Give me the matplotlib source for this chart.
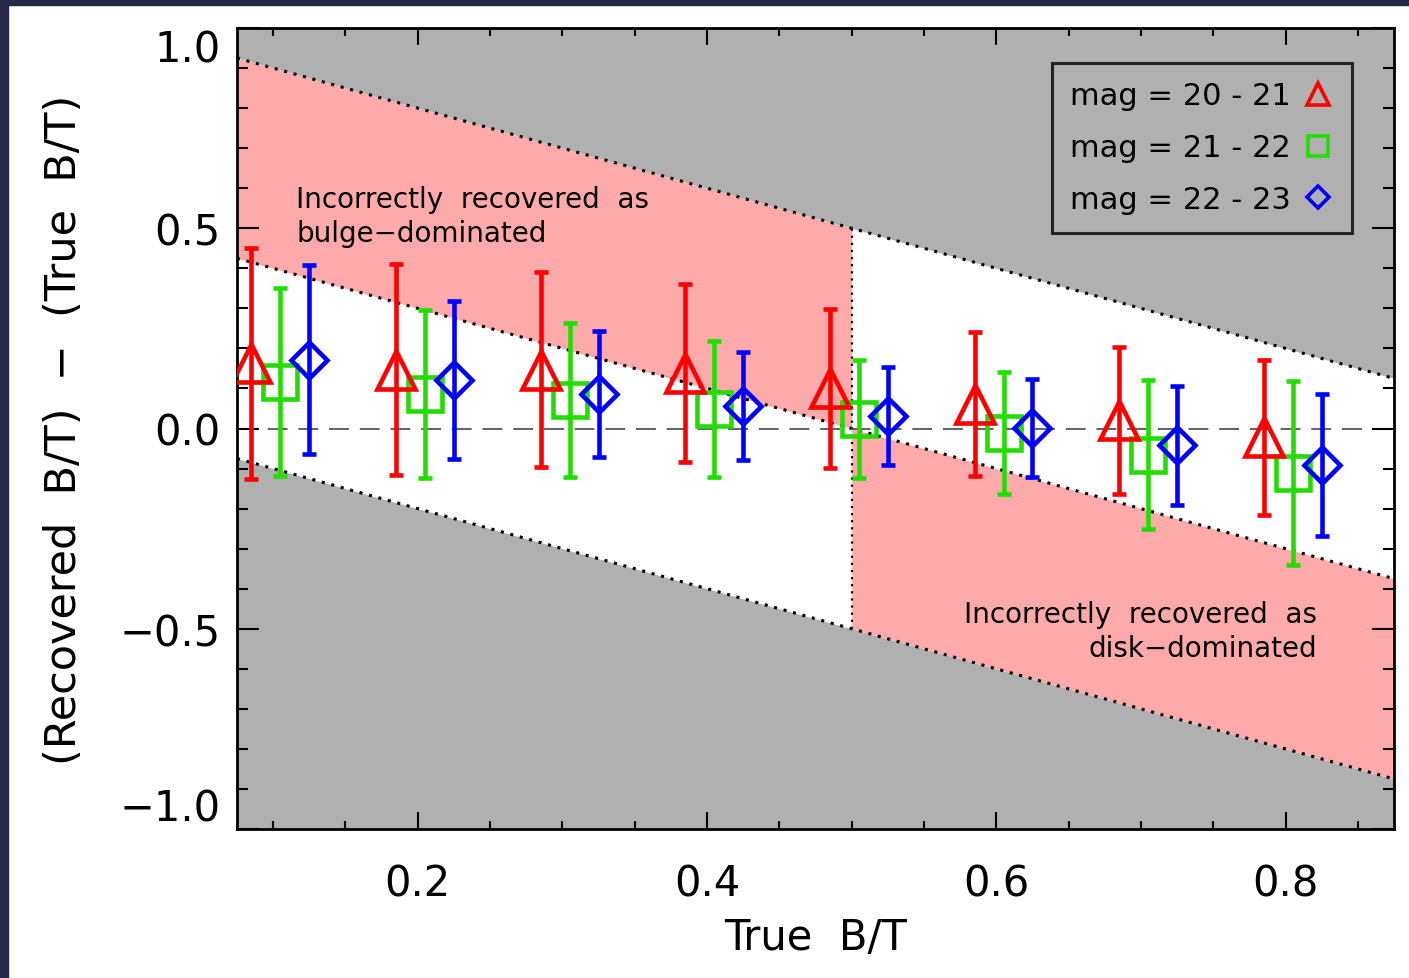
import matplotlib
matplotlib.use('Agg')
import matplotlib.pyplot as plt
from matplotlib.lines import Line2D
from matplotlib.patches import Rectangle
import numpy as np

plt.rcParams['font.family'] = ['DejaVu Sans']

# ---------------------------------------------------------------------------
# data
# ---------------------------------------------------------------------------
x_red = [0.085, 0.185, 0.285, 0.385, 0.485, 0.585, 0.685, 0.785]
y_red = [0.163, 0.147, 0.147, 0.138, 0.100, 0.061, 0.020, -0.022]
err_red = [0.288, 0.263, 0.244, 0.222, 0.199, 0.180, 0.184, 0.194]

x_green = [0.105, 0.205, 0.305, 0.405, 0.505, 0.605, 0.705, 0.805]
y_green = [0.117, 0.087, 0.071, 0.049, 0.024, -0.012, -0.065, -0.111]
err_green = [0.235, 0.210, 0.192, 0.170, 0.147, 0.152, 0.186, 0.229]

x_blue = [0.125, 0.225, 0.325, 0.425, 0.525, 0.625, 0.725, 0.825]
y_blue = [0.172, 0.122, 0.086, 0.056, 0.031, 0.001, -0.042, -0.091]
err_blue = [0.235, 0.197, 0.158, 0.134, 0.122, 0.122, 0.148, 0.177]

labels = ['mag = 20 - 21', 'mag = 21 - 22', 'mag = 22 - 23']

# region boundaries: y = c - x
split_bt = 0.5
offsets = [1.0, 0.5, 0.0]

xlim = (0.075, 0.875)
ylim = (-1.0, 1.0)

RED, GREEN, BLUE = '#ff0000', '#22dd00', '#0000ff'
PINK, GRAY = '#ffaaaa', '#b0b0b0'

fig = plt.figure(figsize=(14.09, 9.79), dpi=100)
fig.patch.set_facecolor('white')
# dark frame strips (top / left)
fig.patches.append(Rectangle((0, 1 - 6 / 979), 1, 6 / 979, transform=fig.transFigure,
                             color='#262a48', zorder=0))
fig.patches.append(Rectangle((0, 0), 8 / 1409, 1, transform=fig.transFigure,
                             color='#262a48', zorder=0))

ax = fig.add_axes([237 / 1409, 1 - 830 / 979, (1394 - 237) / 1409, (830 - 29) / 979])
ax.set_xlim(*xlim)
ax.set_ylim(*ylim)

# shaded regions
xx = np.linspace(xlim[0], xlim[1], 200)
ax.fill_between(xx, offsets[0] - xx, ylim[1], color=GRAY, lw=0, zorder=0)
ax.fill_between(xx, ylim[0], offsets[2] - xx, color=GRAY, lw=0, zorder=0)
xl = xx[xx <= split_bt]
xl = np.append(xl, split_bt)
ax.fill_between(xl, offsets[1] - xl, offsets[0] - xl, color=PINK, lw=0, zorder=0)
xr = xx[xx >= split_bt]
xr = np.insert(xr, 0, split_bt)
ax.fill_between(xr, offsets[2] - xr, offsets[1] - xr, color=PINK, lw=0, zorder=0)

dot = (0, (1, 2.2))
for c in offsets:
    ax.plot(xx, c - xx, color='black', lw=2.2, linestyle=dot, zorder=1)
ax.plot([split_bt, split_bt], [offsets[2] - split_bt, offsets[0] - split_bt],
        color='black', lw=1.6, linestyle=dot, zorder=1)

ax.axhline(0, color='#555555', lw=1.3, linestyle=(0, (11, 6)), zorder=1)

# data
ekw = dict(elinewidth=3.3, capsize=5, capthick=3.3, markeredgewidth=3.3,
           markerfacecolor='none', linestyle='none', zorder=3)
ax.errorbar(x_green, y_green, yerr=err_green, marker='s', ms=25, color=GREEN,
            markeredgecolor=GREEN, **ekw)
ax.errorbar(x_blue, y_blue, yerr=err_blue, marker='D', ms=18, color=BLUE,
            markeredgecolor=BLUE, **ekw)
ax.errorbar(x_red, y_red, yerr=err_red, marker='^', ms=28, color=RED,
            markeredgecolor=RED, **ekw)

# annotations (anchor = baseline of the last line)
ax.text(0.116, 0.467, 'Incorrectly  recovered  as\nbulge\u2212dominated', fontsize=20,
        ha='left', va='baseline', linespacing=1.3, zorder=4)
ax.text(0.822, -0.569, 'Incorrectly  recovered  as\ndisk\u2212dominated', fontsize=20,
        ha='right', va='baseline', linespacing=1.3, multialignment='right', zorder=4)

# legend
handles = [
    Line2D([], [], marker='^', ms=16, mew=2.6, mfc='none', mec=RED, ls='none'),
    Line2D([], [], marker='s', ms=15, mew=2.6, mfc='none', mec=GREEN, ls='none'),
    Line2D([], [], marker='D', ms=11, mew=2.6, mfc='none', mec=BLUE, ls='none'),
]
leg = ax.legend(handles, labels, loc='upper right',
                bbox_to_anchor=((1352 - 237) / 1157, (830 - 64) / 801),
                borderaxespad=0, markerfirst=False, fontsize=22, frameon=True,
                fancybox=False, handlelength=1.0, handletextpad=0.4,
                labelspacing=0.75, borderpad=0.6)
leg.get_frame().set_facecolor('none')
leg.get_frame().set_edgecolor('black')
leg.get_frame().set_linewidth(2.2)
leg.set_zorder(5)

# axes styling
ax.set_xticks([0.2, 0.4, 0.6, 0.8])
ax.set_xticklabels(['0.2', '0.4', '0.6', '0.8'])
ax.set_xticks(np.arange(0.1, 0.876, 0.05), minor=True)
ax.set_yticks([-1.0, -0.5, 0.0, 0.5, 1.0])
ax.set_yticklabels(['\u22121.0', '\u22120.5', '0.0', '0.5', '1.0'])
ax.set_yticks(np.arange(-0.9, 0.95, 0.1), minor=True)

ax.tick_params(axis='both', which='both', direction='in', top=True, right=True,
               width=1.5, labelsize=30)
ax.tick_params(axis='x', which='major', length=12, pad=24)
ax.tick_params(axis='x', which='minor', length=6)
ax.tick_params(axis='y', which='major', length=16, pad=12)
ax.tick_params(axis='y', which='minor', length=8)
for s in ax.spines.values():
    s.set_linewidth(2.0)

yt = ax.yaxis.get_major_ticks()
yt[0].label1.set_verticalalignment('bottom')
yt[-1].label1.set_verticalalignment('top')

ax.set_xlabel('True  B/T', fontsize=30)
ax.xaxis.set_label_coords(0.5, -0.108)
ax.set_ylabel('(Recovered  B/T)  \u2212  (True  B/T)', fontsize=31)
ax.yaxis.set_label_coords(-0.131, 0.5)

fig.savefig('out.png', dpi=100)
